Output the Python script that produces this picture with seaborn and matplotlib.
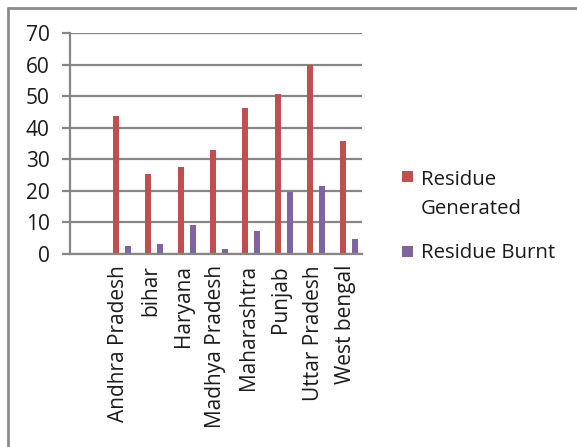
import matplotlib
matplotlib.use("Agg")
import matplotlib.pyplot as plt
import seaborn as sns
import pandas as pd
import numpy as np
from matplotlib.patches import Rectangle
from matplotlib.lines import Line2D

states = ["", "Andhra Pradesh", "bihar", "Haryana", "Madhya Pradesh",
          "Maharashtra", "Punjab", "Uttar Pradesh", "West bengal"]
residue_generated = [0, 43.6, 25.3, 27.5, 33.0, 46.2, 50.8, 60.0, 35.7]
residue_burnt = [0, 2.4, 3.2, 9.2, 1.7, 7.3, 19.5, 21.6, 4.7]
series_names = ["Residue Generated", "Residue Burnt"]
y_ticks = [0, 10, 20, 30, 40, 50, 60, 70]

RED = "#C0504D"
PURPLE = "#8064A2"
GRID = "#868686"
TXT = "#1a1a1a"

rows = []
for i, s in enumerate(states):
    rows.append({"state": s, "series": "_pad1", "value": 0.0})
    rows.append({"state": s, "series": series_names[0], "value": residue_generated[i]})
    rows.append({"state": s, "series": "_pad2", "value": 0.0})
    rows.append({"state": s, "series": series_names[1], "value": residue_burnt[i]})
df = pd.DataFrame(rows)

sns.set_theme(style="white")
plt.rcParams["font.family"] = ["Open Sans", "DejaVu Sans"]

W, H = 577, 447
fig = plt.figure(figsize=(W / 100, H / 100), dpi=100)
ax = fig.add_axes([70 / W, (H - 254) / H, 292 / W, 221 / H])

hue_order = ["_pad1", series_names[0], "_pad2", series_names[1]]
palette = {"_pad1": (1, 1, 1, 0), series_names[0]: RED,
           "_pad2": (1, 1, 1, 0), series_names[1]: PURPLE}
sns.barplot(data=df, x="state", y="value", hue="series", order=states,
            hue_order=hue_order, palette=palette, width=0.74, dodge=True,
            errorbar=None, linewidth=0, saturation=1, legend=False, ax=ax)

ax.set_xlim(-0.5, len(states) - 0.5)
ax.set_ylim(0, 70)
ax.set_yticks(y_ticks)
ax.set_yticklabels([str(v) for v in y_ticks])
ax.set_xlabel("")
ax.set_ylabel("")

ax.set_axisbelow(True)
ax.yaxis.grid(True, color=GRID, linewidth=1.6)
ax.xaxis.grid(False)
for side in ["top", "right"]:
    ax.spines[side].set_visible(False)
for side in ["left", "bottom"]:
    ax.spines[side].set_color(GRID)
    ax.spines[side].set_linewidth(1.6)

ax.set_xticks(range(len(states)))
ax.set_xticklabels(states, rotation=90, fontsize=15, color=TXT)
ax.set_xticks(np.arange(-0.5, len(states), 1.0), minor=True)
ax.tick_params(axis="x", which="major", length=0, pad=8)
ax.tick_params(axis="x", which="minor", length=4.5, width=1.6, color=GRID, direction="out")
ax.tick_params(axis="y", which="major", length=5.8, width=1.6, color=GRID,
               direction="out", pad=9, labelsize=15, labelcolor=TXT)
ax.tick_params(left=True, bottom=True)

# legend drawn by hand to keep the left-aligned two-line label
def fy(py):
    return 1 - py / H

fig.add_artist(Rectangle((402 / W, fy(182)), 11 / W, 11 / H, facecolor=RED,
                         edgecolor="none", transform=fig.transFigure))
fig.add_artist(Rectangle((402 / W, fy(257)), 11 / W, 11 / H, facecolor=PURPLE,
                         edgecolor="none", transform=fig.transFigure))
fig.text(421 / W, fy(185), "Residue", fontsize=14.7, color=TXT,
         ha="left", va="baseline")
fig.text(421 / W, fy(214), "Generated", fontsize=14.7, color=TXT,
         ha="left", va="baseline")
fig.text(421 / W, fy(258), series_names[1], fontsize=14.7, color=TXT,
         ha="left", va="baseline")

fig.add_artist(Line2D([8 / W, 8 / W], [1 - 8 / H, 0], color="#8c8c8c",
                      linewidth=2, transform=fig.transFigure))
fig.add_artist(Line2D([8 / W, 1], [1 - 8 / H, 1 - 8 / H], color="#8c8c8c",
                      linewidth=2, transform=fig.transFigure))

fig.savefig("out.png", dpi=100, facecolor="white")
